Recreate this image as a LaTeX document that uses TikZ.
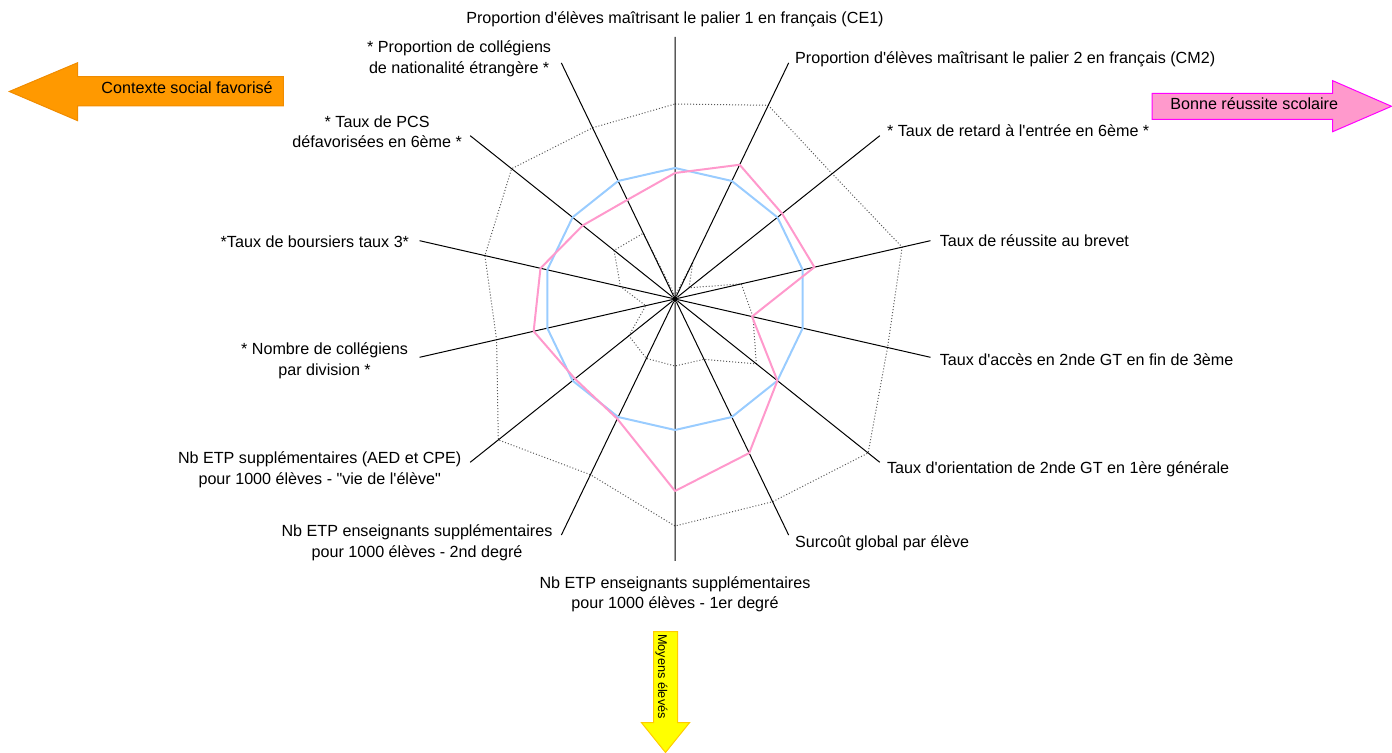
\documentclass[tikz,border=0pt]{standalone}
\usepackage{fontspec}
\setmainfont{Liberation Sans}[Ligatures=TeXOff]
\usepackage{xcolor}
\usetikzlibrary{positioning}

\definecolor{seriesblue}{HTML}{99CCFF}
\definecolor{seriespink}{HTML}{FF99CC}
\definecolor{arroworange}{HTML}{FF9900}
\definecolor{orangeedge}{HTML}{F08C00}
\definecolor{arrowpink}{HTML}{FF99CC}
\definecolor{pinkedge}{HTML}{FF00FF}
\definecolor{arrowyellow}{HTML}{FFFF00}
\definecolor{yellowedge}{HTML}{FFCC00}

\begin{document}
\begin{tikzpicture}[
    x=0.75pt, y=0.75pt, % one unit is one pixel of the chart
    every node/.style={font={\fontsize{12.1}{15.5}\selectfont}}, % Arial-like labels
    lbl/.style={inner sep=0pt, align=center},
    hub/.style={circle, fill=black, inner sep=0pt, minimum size=4.5pt},
    spoke/.style={draw=black, line width=0.75pt},
    bound/.style={draw=black!65, line width=0.75pt, dash pattern=on 0.75pt off 1.5pt}, % min and max values
    avg/.style={draw=seriesblue, line width=1.5pt, line join=round},
    etab/.style={draw=seriespink, line width=1.5pt, line join=round},
    bigarrow/.style={line width=0.75pt}
  ]
  \useasboundingbox (0,0) rectangle (1392,753);

  \node[hub] (c) at (675,454) {};

  \begin{scope}[shift={(c)}]
    \coordinate (e0) at (90:262);
    \coordinate (e1) at (64.29:262);
    \coordinate (e2) at (38.57:262);
    \coordinate (e3) at (12.86:262);
    \coordinate (e4) at (-12.86:262);
    \coordinate (e5) at (-38.57:262);
    \coordinate (e6) at (-64.29:262);
    \coordinate (e7) at (-90:262);
    \coordinate (e8) at (-115.71:262);
    \coordinate (e9) at (-141.43:262);
    \coordinate (e10) at (-167.14:262);
    \coordinate (e11) at (167.14:262);
    \coordinate (e12) at (141.43:262);
    \coordinate (e13) at (115.71:262);

    \draw[bound] (90:195) -- (64.29:215) -- (38.57:201) -- (12.86:233) -- (-12.86:218) -- (-38.57:247) -- (-64.29:225)
      -- (-90:227) -- (-115.71:195) -- (-141.43:226) -- (-167.14:183) -- (167.14:195) -- (141.43:209) -- (115.71:190) -- cycle;
    \draw[bound] (90:3) -- (64.29:41) -- (38.57:18) -- (12.86:68) -- (-12.86:80) -- (-38.57:104) -- (-64.29:67)
      -- (-90:67) -- (-115.71:66) -- (-141.43:59) -- (-167.14:30) -- (167.14:56) -- (141.43:78) -- (115.71:73) -- cycle;
  \end{scope}

  \draw[spoke] (c) -- (e0) (c) -- (e1) (c) -- (e2) (c) -- (e3) (c) -- (e4) (c) -- (e5) (c) -- (e6);
  \draw[spoke] (c) -- (e7) (c) -- (e8) (c) -- (e9) (c) -- (e10) (c) -- (e11) (c) -- (e12) (c) -- (e13);

  \begin{scope}[shift={(c)}]
    \draw[avg] (90:131) -- (64.29:131) -- (38.57:131) -- (12.86:131) -- (-12.86:131) -- (-38.57:131) -- (-64.29:131)
      -- (-90:131) -- (-115.71:131) -- (-141.43:131) -- (-167.14:131) -- (167.14:131) -- (141.43:131) -- (115.71:131) -- cycle;
    \draw[etab] (90:126) -- (64.29:149) -- (38.57:137) -- (12.86:143) -- (-12.86:79) -- (-38.57:131) -- (-64.29:171)
      -- (-90:192) -- (-115.71:133) -- (-141.43:128) -- (-167.14:145) -- (167.14:138) -- (141.43:118) -- (115.71:110) -- cycle;
  \end{scope}

  \node[lbl, above=7.5pt of e0] (ce1) {Proportion d'élèves maîtrisant le palier 1 en français (CE1)};
  \node[lbl, right=4.7pt of e1, yshift=3pt] (cm2) {Proportion d'élèves maîtrisant le palier 2 en français (CM2)};
  \node[lbl, right=5.2pt of e2, yshift=3.4pt] (retard) {* Taux de retard à l'entrée en 6ème *};
  \node[lbl, right=6.8pt of e3] (brevet) {Taux de réussite au brevet};
  \node[lbl, right=6.8pt of e4, yshift=-2pt] (acces) {Taux d'accès en 2nde GT en fin de 3ème};
  \node[lbl, right=5.2pt of e5, yshift=-5.5pt] (orient) {Taux d'orientation de 2nde GT en 1ère générale};
  \node[lbl, right=4.7pt of e6, yshift=-6pt] (surcout) {Surcoût global par élève};
  \node[lbl, below=11.3pt of e7] (etp1) {Nb ETP enseignants supplémentaires\\pour 1000 élèves - 1er degré};
  \node[lbl, left=6.5pt of e8, yshift=-5.7pt] (etp2) {Nb ETP enseignants supplémentaires\\pour 1000 élèves - 2nd degré};
  \node[lbl, left=6.4pt of e9, yshift=-5.7pt] (vie) {Nb ETP supplémentaires (AED et CPE)\\pour 1000 élèves - "vie de l'élève"};
  \node[lbl, left=8.5pt of e10, yshift=-2.8pt] (division) {* Nombre de collégiens\\par division *};
  \node[lbl, left=7.7pt of e11, yshift=-0.75pt] (boursiers) {*Taux de boursiers taux 3*};
  \node[lbl, left=6pt of e12, yshift=3pt] (pcs) {* Taux de PCS\\défavorisées en 6ème *};
  \node[lbl, left=7.5pt of e13, yshift=3pt] (nation) {* Proportion de collégiens\\de nationalité étrangère *};

  % direction arrows
  \filldraw[bigarrow, draw=orangeedge, fill=arroworange] (9.3,661.5) -- (77.7,690.3) -- (77.7,676.3) -- (283.3,676.3)
    -- (283.3,647) -- (77.7,647) -- (77.7,632.3) -- cycle;
  \node[lbl, anchor=east] (social) at (273,665.3) {Contexte social favorisé};

  \filldraw[bigarrow, draw=pinkedge, fill=arrowpink] (1152,659.7) -- (1332.7,659.7) -- (1332.7,672.3) -- (1391.5,646.7)
    -- (1332.7,621.3) -- (1332.7,633.7) -- (1152,633.7) -- cycle;
  \node[lbl] (reussite) at (1254.2,649.7) {Bonne réussite scolaire};

  \filldraw[bigarrow, draw=yellowedge, fill=arrowyellow] (653.5,121.3) -- (677.5,121.3) -- (677.5,30.3) -- (689.5,30.3)
    -- (665.5,0.5) -- (641.5,30.3) -- (653.5,30.3) -- cycle;
  \node[lbl, rotate=-90, font={\fontsize{9.5}{11}\selectfont}] (moyens) at (661.5,76.5) {Moyens élevés};

\end{tikzpicture}
\end{document}
